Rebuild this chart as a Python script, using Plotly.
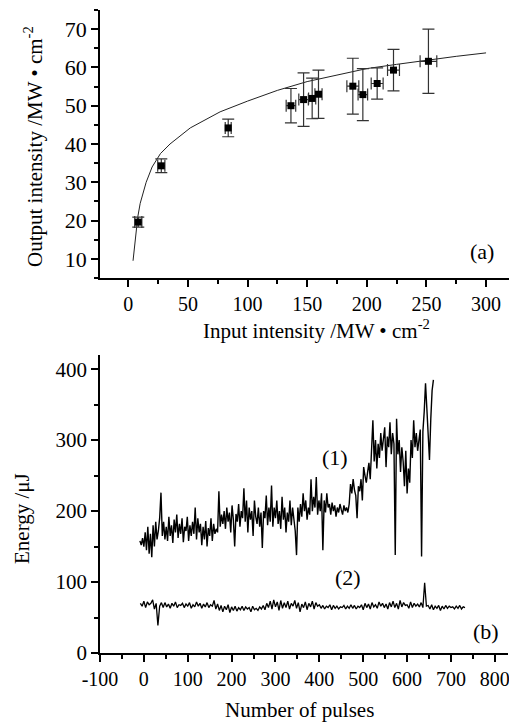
import plotly.graph_objects as go

# ---------------- panel (a) data ----------------
input_intensity = [8.4, 27.7, 83.8, 136.4, 147.0, 154.2, 159.5, 188.3, 196.7, 208.7, 222.4, 251.7]
output_intensity = [19.6, 34.3, 44.2, 50.0, 51.6, 51.9, 53.0, 55.1, 52.9, 55.8, 59.3, 61.6]
output_err = [1.3, 1.8, 2.3, 4.5, 7.0, 5.3, 6.3, 7.3, 6.8, 4.1, 5.4, 8.4]
input_err = [3, 3, 2.5, 4, 4, 3, 3, 5, 4, 5, 5, 7]

fit_x = [4, 6, 8, 10, 15, 20, 27, 35, 52, 77, 100, 125, 150, 175, 200, 225, 250, 275, 300]
fit_y = [9.5, 16, 21, 24.5, 30, 34, 37.5, 40, 44.2, 48.4, 51.2, 54, 56.3, 58, 59.7, 60.8, 61.9, 62.9, 63.8]

# ---------------- panel (b) data ----------------
pulses_1 = list(range(-9, 661, 3))
energy_1 = [
    158, 152, 162, 150, 170, 145, 178, 140, 168, 135, 180, 150, 185, 160, 172, 190, 226, 165, 185, 160,
    178, 158, 192, 165, 180, 155, 188, 170, 195, 162, 182, 168, 190, 156, 178, 172, 192, 158, 180, 165,
    185, 168, 205, 160, 190, 170, 182, 152, 178, 160, 186, 150, 176, 165, 190, 158, 182, 168, 175, 170,
    228, 178, 195, 182, 200, 175, 205, 185, 198, 170, 208, 188, 150, 196, 185, 210, 178, 200, 190, 232,
    185, 215, 170, 205, 188, 200, 165, 215, 192, 182, 205, 178, 198, 148, 200, 190, 222, 180, 205, 185,
    236, 178, 205, 190, 215, 182, 200, 175, 220, 188, 205, 170, 198, 185, 215, 180, 205, 190, 172, 138,
    205, 185, 210, 192, 225, 200, 215, 188, 205, 195, 245, 200, 220, 205, 248, 195, 215, 200, 225, 145,
    215, 198, 225, 205, 210, 195, 212, 200, 208, 192, 205, 198, 210, 202, 195, 208, 200, 205, 198, 210,
    238, 225, 245, 230, 222, 190, 235, 228, 245, 215, 262, 250, 240, 255, 268, 245, 290, 328, 270, 300,
    260, 295, 275, 310, 285, 300, 318, 262, 305, 290, 325, 280, 310, 295, 138, 330, 280, 300, 255, 290,
    270, 235, 285, 225, 260, 240, 300, 275, 328, 290, 310, 285, 300, 315, 136, 312, 340, 380, 345, 310,
    272, 330, 370, 385,
]

pulses_2 = list(range(-8, 733, 4))
energy_2 = [
    70, 66, 73, 64, 72, 68, 70, 75, 62, 70, 39, 66, 71, 64, 71, 65, 69, 63, 70, 66,
    72, 64, 68, 67, 70, 64, 69, 66, 71, 63, 68, 65, 72, 66, 70, 63, 69, 65, 71, 64,
    68, 66, 74, 62, 69, 60, 67, 58, 66, 61, 68, 57, 65, 60, 66, 59, 64, 61, 66, 60,
    65, 62, 64, 58, 66, 61, 63, 60, 65, 62, 67, 61, 70, 64, 73, 62, 75, 65, 72, 60,
    74, 63, 71, 64, 73, 62, 70, 66, 74, 63, 71, 58, 69, 64, 72, 61, 70, 65, 73, 62,
    71, 66, 68, 63, 67, 62, 66, 64, 68, 61, 67, 63, 66, 62, 65, 64, 67, 62, 66, 63,
    68, 63, 67, 62, 66, 64, 68, 61, 70, 64, 69, 62, 71, 65, 68, 63, 72, 66, 70, 64,
    69, 62, 71, 65, 73, 64, 70, 62, 74, 65, 71, 67, 68, 63, 72, 64, 70, 66, 69, 65,
    71, 64, 99, 66, 67, 62, 68, 61, 66, 63, 67, 60, 66, 62, 67, 63, 66, 64, 65, 62,
    66, 63, 67, 62, 65, 64,
]

pulse_ticks = [-100, 0, 100, 200, 300, 400, 500, 600, 700, 800]
pulse_tick_labels = ["-100", "0", "100", "200", "300", "400", "500", "600", "700", "800"]

FONT = "Liberation Serif"

# the page body adds an 8 px offset; all pixel targets below are page pixels
OFF = 8
FIG_W, FIG_H = 517 - OFF, 725 - OFF
L, T = 100 - OFF, 10 - OFF          # page x=100 / y=10
PLOT_RIGHT, PLOT_BOTTOM = 513, 653  # page pixels
R = FIG_W - (PLOT_RIGHT - OFF)
B = FIG_H - (PLOT_BOTTOM - OFF)
W_PLOT = FIG_W - L - R
H_PLOT = FIG_H - T - B

fig = go.Figure()

fig.add_trace(go.Scatter(
    x=fit_x, y=fit_y, mode="lines", line=dict(color="#222", width=1),
    xaxis="x", yaxis="y", showlegend=False, hoverinfo="skip"))

fig.add_trace(go.Scatter(
    x=input_intensity, y=output_intensity, mode="markers",
    marker=dict(symbol="square", size=7, color="black"),
    error_y=dict(type="data", array=output_err, color="#333", thickness=1.2, width=6),
    error_x=dict(type="data", array=input_err, color="#333", thickness=1.2, width=6),
    xaxis="x", yaxis="y", showlegend=False))

fig.add_trace(go.Scatter(
    x=pulses_1, y=energy_1, mode="lines", line=dict(color="black", width=1.4),
    xaxis="x2", yaxis="y2", showlegend=False))

fig.add_trace(go.Scatter(
    x=pulses_2, y=energy_2, mode="lines", line=dict(color="black", width=1.3),
    xaxis="x2", yaxis="y2", showlegend=False))


def ax(size=20, **kw):
    base = dict(
        showline=True, linecolor="black", linewidth=1.5,
        ticks="outside", ticklen=7, tickwidth=1.5, tickcolor="black",
        showgrid=False, zeroline=False, automargin=False,
        tickfont=dict(family=FONT, size=size, color="black"),
    )
    base.update(kw)
    return base


def minor(d):
    return dict(dtick=d, ticks="outside", ticklen=4, tickwidth=1.5,
                tickcolor="black", showgrid=False)


def ypaper(py):
    return (PLOT_BOTTOM - py) / H_PLOT


def xpaper(px):
    return (px - 100) / W_PLOT


fig.update_layout(
    width=FIG_W, height=FIG_H,
    margin=dict(l=L, r=R, t=T, b=B),
    paper_bgcolor="white", plot_bgcolor="white",
    font=dict(family=FONT, size=20, color="black"),
    xaxis=ax(domain=[0, 1], anchor="y", range=[-23.7, 322.6], tick0=0, dtick=50, minor=minor(25)),
    yaxis=ax(size=22, domain=[ypaper(278), 1], anchor="x", range=[5, 75], tick0=0, dtick=10, minor=minor(5)),
    xaxis2=ax(domain=[0, xpaper(508)], anchor="y2", range=[-100, 830],
              tickmode="array", tickvals=pulse_ticks, ticktext=pulse_tick_labels, minor=minor(50)),
    yaxis2=ax(size=21, domain=[0, ypaper(355)], anchor="x2", range=[0, 420], tick0=0, dtick=100, minor=minor(50)),
)

annots = []
for text, (px, py), ang, sz in [
    ("Input intensity /MW • cm<sup>-2</sup>", (316, 329), 0, 21),
    ("Output intensity /MW • cm<sup>-2</sup>", (33, 147), -90, 21),
    ("Number of pulses", (299, 710), 0, 21),
    ("Energy /μJ", (22, 519), -90, 21),
]:
    annots.append(dict(text=text, x=xpaper(px), y=ypaper(py), xref="paper", yref="paper",
                       xanchor="center", yanchor="middle", textangle=ang,
                       showarrow=False, font=dict(family=FONT, size=sz, color="black")))

for text, x, y, xr, yr in [
    ("(a)", 297, 11.8, "x", "y"),
    ("(1)", 436, 276, "x2", "y2"),
    ("(2)", 466, 107, "x2", "y2"),
    ("(b)", 780, 31, "x2", "y2"),
]:
    annots.append(dict(text=text, x=x, y=y, xref=xr, yref=yr, showarrow=False,
                       xanchor="center", yanchor="middle",
                       font=dict(family=FONT, size=22, color="black")))

fig.update_layout(annotations=annots)

fig.write_html("out.html")
